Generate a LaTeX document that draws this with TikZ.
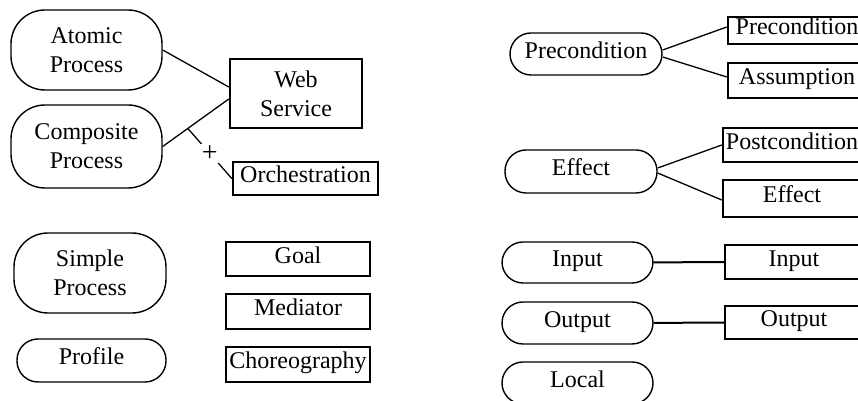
\documentclass[tikz,border=0pt]{standalone}
\usepackage{fontspec}
\setmainfont{Liberation Serif}
\usetikzlibrary{positioning, calc}

\tikzset{
  txt/.style = {font=\rmfamily\fontsize{12bp}{14.5bp}\selectfont, align=center, inner sep=0pt},
  oneline/.style = {text height=8bp, text depth=3.5bp},
  proc/.style = {txt, draw, line width=0.7bp, rounded corners=17bp, minimum width=75.5bp, minimum height=40bp},
  pill/.style = {txt, oneline, draw, line width=0.7bp, rounded corners=10.5bp, minimum width=75.5bp, minimum height=21bp},
  elem/.style = {txt, oneline, draw, line width=1.2bp, minimum width=69bp},
  link/.style = {line width=0.65bp},
  flow/.style = {line width=1bp}
}

\begin{document}
\begin{tikzpicture}[x=0.5bp, y=-0.5bp]
                \useasboundingbox (0,0) rectangle (858,401);
                \clip (0,0) rectangle (858,401);
                % left side: processes and WSMO elements
                \node[proc] (atomic) at (86.5,50) {Atomic\\Process};
                \node[proc, minimum height=41.5bp] (composite) at (86.5,146.5) {Composite\\Process};
                \node[proc, minimum width=76bp] (simple) at (90,273) {Simple\\Process};
                \node[pill, minimum width=74.5bp, minimum height=21.5bp] (profile) at (91.5,360.5) {Profile};
                \node[txt, draw, line width=1.2bp, minimum width=66bp, minimum height=34.5bp] (websvc) at (296,93.5) {Web\\Service};
                \node[elem, minimum width=72.5bp, minimum height=16.5bp] (orch) at (305.5,178.5) {Orchestration};
                \node[elem, minimum width=72bp, minimum height=17bp] (goal) at (298,259) {Goal};
                \node[elem, minimum width=72bp, minimum height=17.5bp] (mediator) at (298,311.5) {Mediator};
                \node[elem, minimum width=72bp, minimum height=17.5bp] (choreo) at (298,364.5) {Choreography};
                \draw[link] (atomic.east) -- ([yshift=3.25bp]websvc.west);
                \draw[link] (composite.east) -- coordinate[pos=0.38] (fork) ([yshift=-2.75bp]websvc.west);
                \draw[link] (fork) -- node[txt, font=\rmfamily\fontsize{14bp}{16bp}\selectfont, fill=white, inner sep=1bp] {+} (orch.west);
                % right side: conditions, effects, in- and outputs
                \node[pill, minimum width=76bp] (precR) at (586,54) {Precondition};
                \node[pill, minimum width=76bp, minimum height=21.5bp] (effR) at (581,171.5) {Effect};
                \node[pill, minimum height=20.5bp] (inR) at (577.5,262.5) {Input};
                \node[pill] (outR) at (577.5,323) {Output};
                \node[pill] (localR) at (577.5,383) {Local};
                \node[elem, minimum height=13.5bp] (precB) at (797,30.5) {Precondition};
                \node[elem, minimum height=17.5bp] (assB) at (797,80.5) {Assumption};
                \node[elem, minimum height=17bp] (postB) at (792,145) {Postcondition};
                \node[elem, minimum height=18.5bp] (effB) at (792,198.5) {Effect};
                \node[elem, minimum height=17bp] (inB) at (794,262) {Input};
                \node[elem, minimum height=16.5bp] (outB) at (794,322.5) {Output};
                \draw[link] ([yshift=2bp]precR.east) -- ([yshift=1.75bp]precB.west);
                \draw[link] ([yshift=-1.5bp]precR.east) -- ([yshift=1.75bp]assB.west);
                \draw[link] ([yshift=1.75bp]effR.east) -- (postB.west);
                \draw[link] ([yshift=-0.75bp]effR.east) -- ([yshift=-0.75bp]effB.west);
                \draw[flow] (inR) -- (inB);
                \draw[flow] (outR) -- (outB);
\end{tikzpicture}
\end{document}
